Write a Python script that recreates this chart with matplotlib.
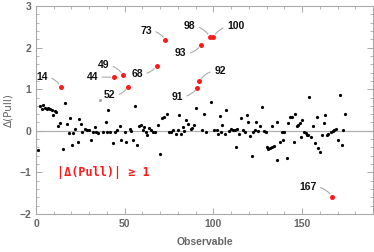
import matplotlib
matplotlib.use("Agg")
import matplotlib.pyplot as plt
from matplotlib.ticker import MultipleLocator

# black points (observable index, delta pull)
obs_x = [1, 2.2, 3.4, 4, 5, 6, 7, 7.9, 8.8, 9.4, 10.7, 11.2, 12.4, 13.5, 15.4, 16.5, 17.6, 18.4,
         19.3, 20.4, 21, 22, 23.6, 24.2, 25.1, 26.2, 27.5, 28.8, 29.8, 31, 32.2, 33.3, 34, 35.2,
         37.8, 39.2, 40, 40.8, 41.6, 43.3, 44.8, 45.7, 47.2, 48.1, 50, 51, 52.8, 53.5, 54.9, 56,
         56.9, 58, 59, 60.3, 60.9, 61.8, 62.5, 63.9, 64.8, 65.9, 67, 68.7, 70, 70.8, 71.9, 73.8,
         74.9, 76, 77.5, 78.8, 80.2, 80.7, 81.6, 82.8, 83.3, 84.7, 85.8, 87.3, 88, 88.8, 90.3,
         93.4, 94.8, 96, 98.9, 100.4, 101.8, 102.6, 103.8, 104.4, 105, 106.3, 107.3, 108.6, 109.7,
         110.8, 112, 112.7, 113.3, 114.4, 115.7, 116.5, 117.6, 118.7, 119.5, 120.6, 121.5, 122.5,
         123.2, 124.3, 125.4, 126.2, 127.4, 128.5, 129.6, 130.3, 131, 132.2, 133, 133.3, 134.4,
         135.6, 136, 137.5, 138.6, 139.3, 140, 141.4, 142.3, 143.1, 144.2, 145.3, 146, 147.2,
         147.9, 148.7, 149.4, 150.2, 151.3, 152, 152.8, 153.5, 154.1, 155, 156, 157.3, 158.3,
         159.2, 160, 161.1, 162.4, 162.9, 164, 164.8, 166.3, 167.2, 168.1, 169.3, 170, 171.2,
         172.3, 173, 174.2]
obs_y = [-0.45, 0.60, 0.52, 0.62, 0.54, 0.53, 0.54, 0.52, 0.49, 0.39, 0.47, 0.44, 0.12, 0.19, -0.44,
         0.66, 0.17, -0.06, 0.31, -0.35, -0.06, 0.04, -0.28, 0.29, 0.17, -0.03, 0.04, 0.02, 0.01,
         -0.23, -0.04, 0.09, -0.02, -0.06, -0.03, 0.22, -0.04, 0.49, -0.04, -0.30, -0.04, 0.02,
         0.12, -0.23, -0.04, -0.27, 0.04, -0.01, -0.23, 0.60, -0.33, 0.12, 0.14, 0.01, 0.10, -0.04,
         -0.09, 0.07, 0.01, -0.02, -0.04, 0.15, -0.55, 0.30, 0.34, 0.41, -0.03, -0.02, 0.01, -0.07,
         0.01, 0.37, -0.07, 0.09, -0.01, 0.25, 0.17, 0.04, 0.06, 0.13, 0.54, 0.02, 0.41, -0.02,
         0.70, 0.02, 0.02, -0.07, 0.36, -0.04, 0.15, -0.07, 0.49, -0.01, 0.04, 0.01, 0.02, -0.40,
         0.05, -0.07, 0.31, 0.01, -0.04, 0.39, 0.22, -0.12, -0.60, -0.04, 0.01, 0.21, -0.01, 0.12,
         0.57, -0.01, -0.04, -0.39, -0.44, -0.42, 0.12, -0.38, -0.36, 0.22, -0.70, -0.28, -0.04,
         -0.22, -0.04, -0.66, 0.18, 0.33, 0.34, -0.26, 0.41, 0.12, 0.15, 0.18, -0.16, 0.26, -0.02,
         -0.06, -0.10, -0.09, 0.82, -0.15, 0.12, -0.30, 0.34, -0.41, -0.52, -0.10, 0.18, 0.39,
         -0.10, -0.07, -0.02, -0.01, 0.01, 0.04, -0.22, 0.86, -0.33, 0.01, 0.41]

# gray point
gray_x = [36]
gray_y = [0.74]

# red points |Δ(Pull)| >= 1
red_x = [14, 44, 49, 52, 68, 73, 91, 92, 93, 98, 100, 167]
red_y = [1.06, 1.29, 1.34, 1.06, 1.56, 2.18, 1.04, 1.19, 2.06, 2.26, 2.26, -1.58]
red_labels = ["14", "44", "49", "52", "68", "73", "91", "92", "93", "98", "100", "167"]
label_x = [3.4, 31.7, 37.9, 41.3, 57.0, 62.0, 79.5, 103.7, 81.5, 86.5, 112.6, 153.2]
label_y = [1.30, 1.29, 1.58, 0.85, 1.37, 2.41, 0.82, 1.44, 1.86, 2.52, 2.52, -1.34]
label_rad = [-0.3, 0.0, -0.3, 0.3, 0.3, -0.3, 0.3, 0.3, 0.3, -0.3, 0.3, -0.3]

W, H = 374, 252
fig = plt.figure(figsize=(W / 100, H / 100), dpi=100)
ax = fig.add_axes([36 / W, 1 - 214 / H, (373 - 36) / W, (214 - 6) / H])

ax.axhline(0, color="#b0b0b0", lw=0.9, zorder=1)
ax.plot(obs_x, obs_y, "o", color="black", ms=2.3, mec="none", zorder=3)
ax.plot(gray_x, gray_y, "o", color="#aaaaaa", ms=2.3, mec="none", zorder=3)
ax.plot(red_x, red_y, "o", color="#ff1a1a", ms=3.6, mec="none", zorder=4)

for lx, ly, px, py, t, r in zip(label_x, label_y, red_x, red_y, red_labels, label_rad):
    ax.annotate(t, xy=(px, py), xytext=(lx, ly), ha="center", va="center",
                fontsize=7.5, fontweight="bold", family="Liberation Sans", color="#111111",
                arrowprops=dict(arrowstyle="-", color="#aaaaaa", lw=0.8,
                                shrinkA=1, shrinkB=2.5,
                                connectionstyle=f"arc3,rad={r}"))

ax.text(37.9, -1.0, "|Δ(Pull)| ≥ 1", color="#ff1a1a", fontsize=8.5, fontweight="bold",
        family="DejaVu Sans Mono", ha="center", va="center")

ax.set_xlim(0, 190)
ax.set_ylim(-2, 3)
ax.xaxis.set_major_locator(MultipleLocator(50))
ax.xaxis.set_minor_locator(MultipleLocator(10))
ax.yaxis.set_major_locator(MultipleLocator(1))
ax.yaxis.set_minor_locator(MultipleLocator(0.2))

frame_c = "#aaaaaa"
for s in ax.spines.values():
    s.set_color(frame_c)
    s.set_linewidth(0.8)
ax.tick_params(which="both", direction="in", top=True, right=True, color=frame_c,
               labelcolor="#666666", labelsize=7.5)
ax.tick_params(which="major", length=4, width=0.7)
ax.tick_params(which="minor", length=2, width=0.6)
for lab in ax.get_xticklabels() + ax.get_yticklabels():
    lab.set_fontfamily("Liberation Sans")
    lab.set_fontweight("bold")

ax.set_xlabel("Observable", fontsize=7.5, fontweight="bold", color="#666666",
              family="Liberation Sans", labelpad=6)
ax.set_ylabel("Δ(Pull)", fontsize=7.5, color="#666666", family="DejaVu Sans", labelpad=4)

fig.savefig("out.png", dpi=100)
